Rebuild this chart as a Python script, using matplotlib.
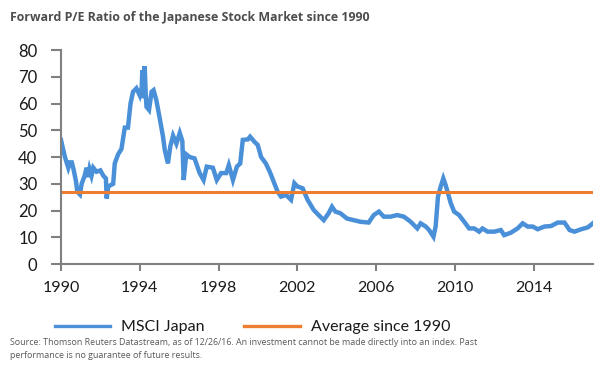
import matplotlib.pyplot as plt

# forward P/E of MSCI Japan
years = [1990.0, 1990.2, 1990.37, 1990.45, 1990.55, 1990.65, 1990.76, 1990.83, 1990.96,
         1991.05, 1991.2, 1991.3, 1991.38, 1991.45, 1991.55, 1991.64, 1991.8, 1992.0,
         1992.15, 1992.28, 1992.32, 1992.4, 1992.65, 1992.73, 1992.9, 1993.07, 1993.24,
         1993.4, 1993.53, 1993.66, 1993.83, 1994.0, 1994.1, 1994.13, 1994.2, 1994.25,
         1994.3, 1994.34, 1994.47, 1994.6, 1994.7, 1994.84, 1995.0, 1995.18, 1995.27,
         1995.43, 1995.55, 1995.69, 1995.86, 1996.03, 1996.16, 1996.23, 1996.36, 1996.53,
         1996.78, 1997.04, 1997.24, 1997.4, 1997.71, 1997.91, 1998.13, 1998.39, 1998.52,
         1998.73, 1998.93, 1999.1, 1999.23, 1999.49, 1999.6, 1999.82, 1999.99, 2000.16,
         2000.4, 2000.6, 2000.84, 2001.0, 2001.17, 2001.43, 2001.68, 2001.85, 2002.0,
         2002.27, 2002.52, 2002.83, 2003.08, 2003.34, 2003.59, 2003.76, 2003.93, 2004.18,
         2004.52, 2004.86, 2005.2, 2005.62, 2005.88, 2006.14, 2006.39, 2006.73, 2007.07,
         2007.41, 2007.75, 2008.09, 2008.26, 2008.52, 2008.69, 2008.91, 2009.02, 2009.14,
         2009.28, 2009.41, 2009.53, 2009.65, 2009.79, 2009.96, 2010.21, 2010.47, 2010.72,
         2010.98, 2011.23, 2011.4, 2011.66, 2012.0, 2012.33, 2012.5, 2012.84, 2013.18,
         2013.44, 2013.69, 2013.95, 2014.2, 2014.54, 2014.88, 2015.22, 2015.56, 2015.82,
         2016.07, 2016.41, 2016.75, 2017.0]
pe = [46.4, 40.0, 36.0, 38.0, 38.0, 35.0, 31.0, 27.0, 26.0,
      30.0, 33.0, 36.0, 32.5, 35.5, 33.0, 36.0, 34.5, 35.0,
      33.0, 32.0, 24.5, 29.0, 30.0, 37.6, 41.0, 43.0, 51.0,
      51.0, 60.0, 64.4, 65.7, 63.0, 66.0, 72.5, 62.0, 74.0,
      64.0, 58.8, 57.6, 64.4, 65.0, 61.3, 55.0, 47.6, 42.6,
      37.6, 44.0, 48.0, 45.0, 49.0, 46.0, 31.4, 41.0, 40.0,
      39.5, 34.0, 31.4, 36.4, 36.0, 31.4, 34.0, 34.0, 37.0,
      31.4, 36.4, 37.6, 46.4, 46.6, 47.6, 45.7, 44.5, 40.0,
      37.6, 34.5, 30.0, 27.0, 25.2, 25.8, 24.0, 30.2, 29.0,
      28.3, 24.0, 20.2, 18.3, 16.4, 19.0, 21.4, 19.6, 19.0,
      17.0, 16.4, 15.8, 15.5, 18.3, 19.6, 17.7, 17.7, 18.3,
      17.7, 15.8, 13.3, 15.2, 14.0, 12.7, 10.2, 14.0, 25.2,
      29.0, 32.0, 29.5, 26.4, 22.7, 19.6, 18.3, 15.8, 13.3,
      13.3, 12.1, 13.3, 12.1, 12.1, 12.7, 10.8, 11.7, 13.3,
      15.2, 14.0, 14.0, 13.0, 14.0, 14.2, 15.5, 15.5, 12.7,
      12.1, 13.0, 13.7, 15.2]
average_pe = 27.0

x_ticks = [1990, 1994, 1998, 2002, 2006, 2010, 2014]
y_ticks = [0, 10, 20, 30, 40, 50, 60, 70, 80]

BLUE = '#4a90d9'
ORANGE = '#ed7d31'
GREY = '#808080'

fig = plt.figure(figsize=(6.08, 3.79), dpi=100)
ax = fig.add_axes([0.1003, 0.3034, 0.8747, 0.5646])

ax.plot(years, pe, color=BLUE, lw=3.2, solid_joinstyle='miter', label='MSCI Japan')
ax.plot([years[0], years[-1]], [average_pe, average_pe], color=ORANGE, lw=2.2,
        label='Average since 1990')

ax.set_xlim(1990, 2017)
ax.set_ylim(0, 80)
ax.set_xticks(x_ticks)
ax.set_yticks(y_ticks)
ax.tick_params(axis='both', color=GREY, width=1.5, length=5, labelsize=11.5,
               labelcolor='#1a1a1a')
ax.tick_params(axis='x', pad=7)
ax.tick_params(axis='y', length=7, pad=10, labelsize=12)
for lab in ax.get_xticklabels() + ax.get_yticklabels():
    lab.set_family('Lato')
for side in ['top', 'right']:
    ax.spines[side].set_visible(False)
for side in ['left', 'bottom']:
    ax.spines[side].set_color(GREY)
    ax.spines[side].set_linewidth(1.5)

fig.text(0.016, 0.955, 'Forward P/E Ratio of the Japanese Stock Market since 1990',
         fontsize=8.9, fontweight='bold', color='#4d4d4d', family='Open Sans',
         va='center')

leg = fig.legend(loc='center left', bbox_to_anchor=(0.066, 0.137), ncol=2, frameon=False,
                 prop={'family': 'Lato', 'size': 11.5}, handlelength=3.5,
                 columnspacing=2.5, handletextpad=0.65)
for t in leg.get_texts():
    t.set_color('#1a1a1a')
for h in leg.get_lines():
    h.set_linewidth(2.4)

fig.text(0.016, 0.079, 'Source: Thomson Reuters Datastream, as of 12/26/16. An investment '
         'cannot be made directly into an index. Past\nperformance is no guarantee of '
         'future results.', fontsize=6.4, color='#595959', family='Open Sans',
         va='center', linespacing=1.6)

fig.savefig('out.png', dpi=100)
